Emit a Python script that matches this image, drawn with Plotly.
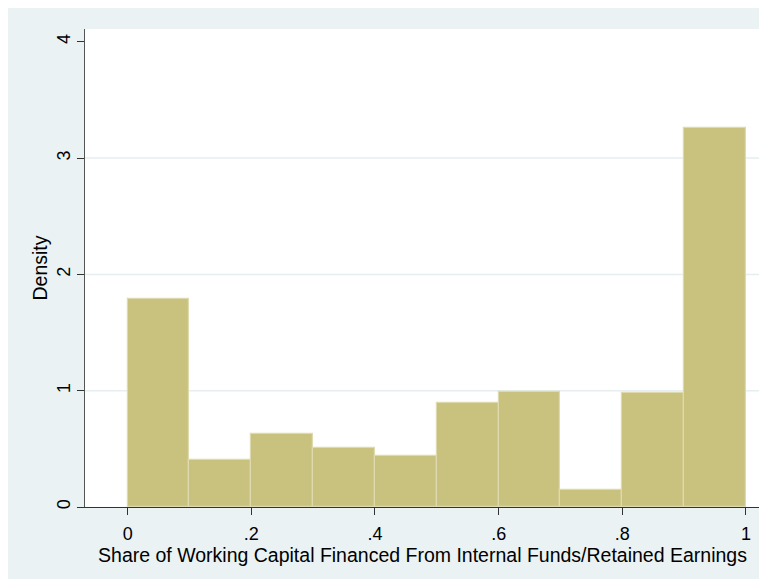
import plotly.graph_objects as go

# histogram bins (left edges) and density
bin_starts = [0.0, 0.1, 0.2, 0.3, 0.4, 0.5, 0.6, 0.7, 0.8, 0.9]
bin_width = 0.1
density = [1.79, 0.404, 0.63, 0.51, 0.44, 0.897, 0.987, 0.149, 0.983, 3.263]

x_ticks = [0, 0.2, 0.4, 0.6, 0.8, 1]
x_tick_labels = ['0', '.2', '.4', '.6', '.8', '1']
y_ticks = [0, 1, 2, 3, 4]

fig = go.Figure()
fig.add_trace(go.Bar(
    x=bin_starts, y=density, width=bin_width, offset=0,
    marker=dict(color='#C9C17E', line=dict(color='#DFDAAE', width=1.2)),
    hoverinfo='y'))

# stata draws grid lines only between the axis ends
for yv in y_ticks[1:-1]:
    fig.add_hline(y=yv, line=dict(color='#E6EEEF', width=1.5), layer='below')

fig.update_layout(
    width=759, height=571,
    margin=dict(l=77, r=7, t=21, b=72),
    paper_bgcolor='#EAF2F3', plot_bgcolor='white',
    showlegend=False, bargap=0,
    font=dict(family='Liberation Sans, Arial, sans-serif', size=18, color='black'))

fig.update_xaxes(
    range=[-0.069, 1.0227], tickvals=x_ticks, ticktext=x_tick_labels,
    ticks='outside', ticklen=7, tickcolor='#333', showgrid=False, zeroline=False,
    showline=True, linecolor='#333', linewidth=1.2, ticklabelstandoff=3,
    title=dict(text='Share of Working Capital Financed From Internal Funds/Retained Earnings',
               standoff=0, font=dict(size=19.5)))

fig.update_yaxes(
    range=[0, 4.11], tickvals=y_ticks, tickangle=-90,
    ticks='outside', ticklen=7, tickcolor='#333',
    showgrid=False, zeroline=False,
    showline=True, linecolor='#555', linewidth=1.2,
    title=dict(text='Density', standoff=0, font=dict(size=19.5)))

fig.write_html('out.html')
